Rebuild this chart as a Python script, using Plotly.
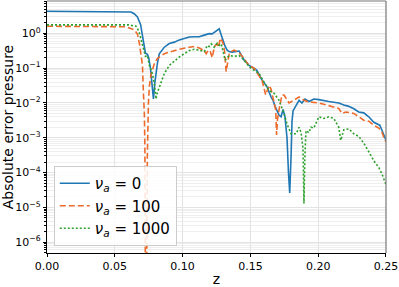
import plotly.graph_objects as go

# ---- data ----
z_a0 = [0.0, 0.039, 0.057, 0.062, 0.0645, 0.0667, 0.069, 0.0706, 0.0718, 0.0726, 0.0741, 0.075, 0.0763,
        0.0774, 0.0785, 0.0796, 0.0807, 0.0814, 0.0828, 0.0865, 0.0902, 0.0939, 0.0976, 0.1012, 0.1049,
        0.1086, 0.1123, 0.116, 0.1196, 0.1218, 0.1248, 0.127, 0.1285, 0.13, 0.1314, 0.1329, 0.1343,
        0.1365, 0.1395, 0.1417, 0.1439, 0.1454, 0.1476, 0.149, 0.1527, 0.1549, 0.1579, 0.16, 0.1623,
        0.1652, 0.1667, 0.1682, 0.1696, 0.1711, 0.1726, 0.1741, 0.1755, 0.177, 0.1781, 0.179, 0.18,
        0.1807, 0.1815, 0.1837, 0.1859, 0.188, 0.1902, 0.1932, 0.1968, 0.2005, 0.2042, 0.2078, 0.2115,
        0.2152, 0.2189, 0.2226, 0.2263, 0.2299, 0.2336, 0.2373, 0.241, 0.2432, 0.2454, 0.2469, 0.2483, 0.25]
err_a0 = [4.3, 4.3, 4.25, 4.1, 3.6, 2.95, 1.8, 0.8, 0.4, 0.27, 0.25, 0.2, 0.1,
          0.04, 0.013, 0.04, 0.1, 0.135, 0.26, 0.4, 0.51, 0.56, 0.65, 0.71, 0.79,
          0.8, 0.8, 0.89, 0.98, 0.97, 1.2, 1.35, 0.9, 0.6, 0.42, 0.33, 0.3,
          0.29, 0.3, 0.31, 0.22, 0.17, 0.14, 0.12, 0.1, 0.085, 0.05, 0.04, 0.029,
          0.015, 0.012, 0.008, 0.006, 0.0045, 0.004, 0.0065, 0.004, 0.001, 0.0001, 2.6e-5, 0.0003,
          0.003, 0.006, 0.0085, 0.012, 0.01, 0.013, 0.011, 0.013, 0.0125, 0.0115, 0.011, 0.0105,
          0.01, 0.0088, 0.008, 0.0068, 0.0055, 0.0052, 0.004, 0.0028, 0.0025, 0.0023, 0.0017, 0.0013, 0.00085]

z_a100 = [0.0, 0.055, 0.0584, 0.0645, 0.0667, 0.0682, 0.0696, 0.0704, 0.0711, 0.0718, 0.0722, 0.0728,
          0.0737, 0.074, 0.0748, 0.0755, 0.0768, 0.0792, 0.0814, 0.0828, 0.0865, 0.0902, 0.0976, 0.1049,
          0.1086, 0.1123, 0.1145, 0.116, 0.1174, 0.1189, 0.1204, 0.1218, 0.1233, 0.124, 0.1255, 0.1266,
          0.1277, 0.1292, 0.13, 0.131, 0.1321, 0.1332, 0.1343, 0.1358, 0.138, 0.1402, 0.1417, 0.1439,
          0.1454, 0.1476, 0.149, 0.1527, 0.1564, 0.1586, 0.1613, 0.1638, 0.1652, 0.1667, 0.1687, 0.1693,
          0.17, 0.1716, 0.1733, 0.1748, 0.1785, 0.1821, 0.1859, 0.1895, 0.1932, 0.2005, 0.2078, 0.2152,
          0.2174, 0.2204, 0.2263, 0.2299, 0.2336, 0.2373, 0.241, 0.2447, 0.2469, 0.2483, 0.25]
err_a100 = [1.6, 1.6, 1.55, 1.25, 0.95, 0.5, 0.2, 0.12, 0.02, 0.005, 0.0005, 1e-9,
            1e-6, 0.0003, 0.01, 0.03, 0.07, 0.135, 0.19, 0.21, 0.26, 0.29, 0.35, 0.4,
            0.42, 0.38, 0.34, 0.32, 0.26, 0.33, 0.3, 0.2, 0.38, 0.45, 0.5, 0.4,
            0.72, 0.6, 0.5, 0.3, 0.08, 0.15, 0.25, 0.3, 0.33, 0.3, 0.28, 0.22,
            0.19, 0.14, 0.12, 0.1, 0.063, 0.045, 0.017, 0.032, 0.025, 0.013, 0.0063, 0.0012,
            0.0035, 0.008, 0.017, 0.017, 0.01, 0.012, 0.015, 0.012, 0.0107, 0.01, 0.0085, 0.007,
            0.005, 0.0055, 0.005, 0.004, 0.0032, 0.003, 0.0023, 0.0019, 0.0015, 0.00105, 0.00076]

z_a1000 = [0.0, 0.06, 0.0657, 0.0667, 0.0682, 0.0704, 0.0718, 0.0726, 0.0741, 0.0755, 0.0777, 0.0792,
           0.0804, 0.0814, 0.0828, 0.0865, 0.0902, 0.0939, 0.0976, 0.1049, 0.1086, 0.1123, 0.1145, 0.116,
           0.1182, 0.1196, 0.1211, 0.1233, 0.1255, 0.127, 0.1285, 0.13, 0.1314, 0.1329, 0.1343, 0.138,
           0.1417, 0.1454, 0.149, 0.1527, 0.1564, 0.16, 0.1638, 0.1675, 0.1711, 0.1748, 0.177, 0.18,
           0.1837, 0.1859, 0.1874, 0.1888, 0.1895, 0.1902, 0.191, 0.1932, 0.1946, 0.1968, 0.199, 0.2005,
           0.2042, 0.2078, 0.2115, 0.2152, 0.2166, 0.2189, 0.2226, 0.2263, 0.2299, 0.2336, 0.2373, 0.241,
           0.2447, 0.2469, 0.25]
err_a1000 = [1.75, 1.75, 1.6, 1.4, 1.0, 0.45, 0.3, 0.22, 0.23, 0.12, 0.07, 0.035,
             0.013, 0.02, 0.028, 0.07, 0.12, 0.16, 0.21, 0.32, 0.35, 0.33, 0.32, 0.3,
             0.45, 0.42, 0.5, 0.4, 0.52, 0.45, 0.5, 0.26, 0.17, 0.2, 0.23, 0.22,
             0.23, 0.17, 0.11, 0.087, 0.07, 0.04, 0.023, 0.019, 0.012, 0.005, 0.0025, 0.0013,
             0.0013, 0.002, 0.0014, 0.0005, 1.3e-5, 0.0003, 0.0016, 0.0014, 0.002, 0.0019, 0.0032, 0.004,
             0.0036, 0.004, 0.0036, 0.002, 0.00085, 0.0017, 0.0018, 0.0013, 0.0011, 0.0007, 0.0004, 0.00022,
             0.00014, 9.5e-5, 4.5e-5]

x_ticks = [0.0, 0.05, 0.10, 0.15, 0.20, 0.25]
x_labels = ["0.00", "0.05", "0.10", "0.15", "0.20", "0.25"]
y_exps = [0, -1, -2, -3, -4, -5, -6]

series = [
    (z_a0, err_a0, "<i>ν</i><sub><i>a</i></sub> = 0", "#1f77b4", "solid"),
    (z_a100, err_a100, "<i>ν</i><sub><i>a</i></sub> = 100", "#ec6a2a", "6px,3px"),
    (z_a1000, err_a1000, "<i>ν</i><sub><i>a</i></sub> = 1000", "#2ca02c", "2px,2px"),
]

fig = go.Figure()
for zs, es, name, color, dash in series:
    fig.add_trace(go.Scatter(x=zs, y=es, mode="lines", name=name,
                             line=dict(color=color, width=1.6, dash=dash)))

y_vals = [10.0 ** e for e in y_exps]
y_text = ["10<sup>%s</sup>" % (str(e).replace("-", "−")) for e in y_exps]
minor_vals = [m * 10.0 ** e for e in range(-7, 1) for m in range(2, 10)]

fig.update_layout(
    width=399, height=287,
    margin=dict(l=47, r=11, t=1, b=34),
    paper_bgcolor="white", plot_bgcolor="white",
    font=dict(family="DejaVu Sans", color="black", size=11),
    showlegend=True,
    legend=dict(x=0.02, y=0.028, xanchor="left", yanchor="bottom",
                bgcolor="rgba(255,255,255,0.85)", bordercolor="#cccccc", borderwidth=1,
                font=dict(size=15, family="DejaVu Sans"), tracegroupgap=0, itemwidth=30),
    xaxis=dict(range=[0, 0.25001], tickvals=x_ticks, ticktext=x_labels,
               ticklabeloverflow="allow",
               showgrid=True, gridcolor="#e3e3e3", gridwidth=1,
               showline=True, linecolor="black", linewidth=1.2,
               ticks="outside", ticklen=3, tickcolor="black", zeroline=False,
               title=dict(text="z", font=dict(size=14), standoff=2)),
    yaxis=dict(type="log", range=[-6.31, 0.93], tickvals=y_vals, ticktext=y_text,
               showgrid=True, gridcolor="#e3e3e3", gridwidth=1,
               showline=True, linecolor="black", linewidth=1.2,
               ticks="outside", ticklen=3, tickcolor="black", zeroline=False,
               minor=dict(tickvals=minor_vals, ticks="outside", ticklen=2, tickcolor="black",
                          showgrid=True, gridcolor="#efefef", gridwidth=1),
               title=dict(text="Absolute error pressure", font=dict(size=14), standoff=2)),
)
fig.add_shape(type="line", xref="paper", yref="paper", x0=0, x1=1, y0=1, y1=1,
              line=dict(color="#777777", width=1.2))
fig.add_shape(type="line", xref="paper", yref="paper", x0=1, x1=1, y0=0, y1=1,
              line=dict(color="#777777", width=1.2))

fig.write_html("out.html", config={"displayModeBar": False},
               post_script="document.body.style.margin='0px';document.body.style.padding='0px';")
